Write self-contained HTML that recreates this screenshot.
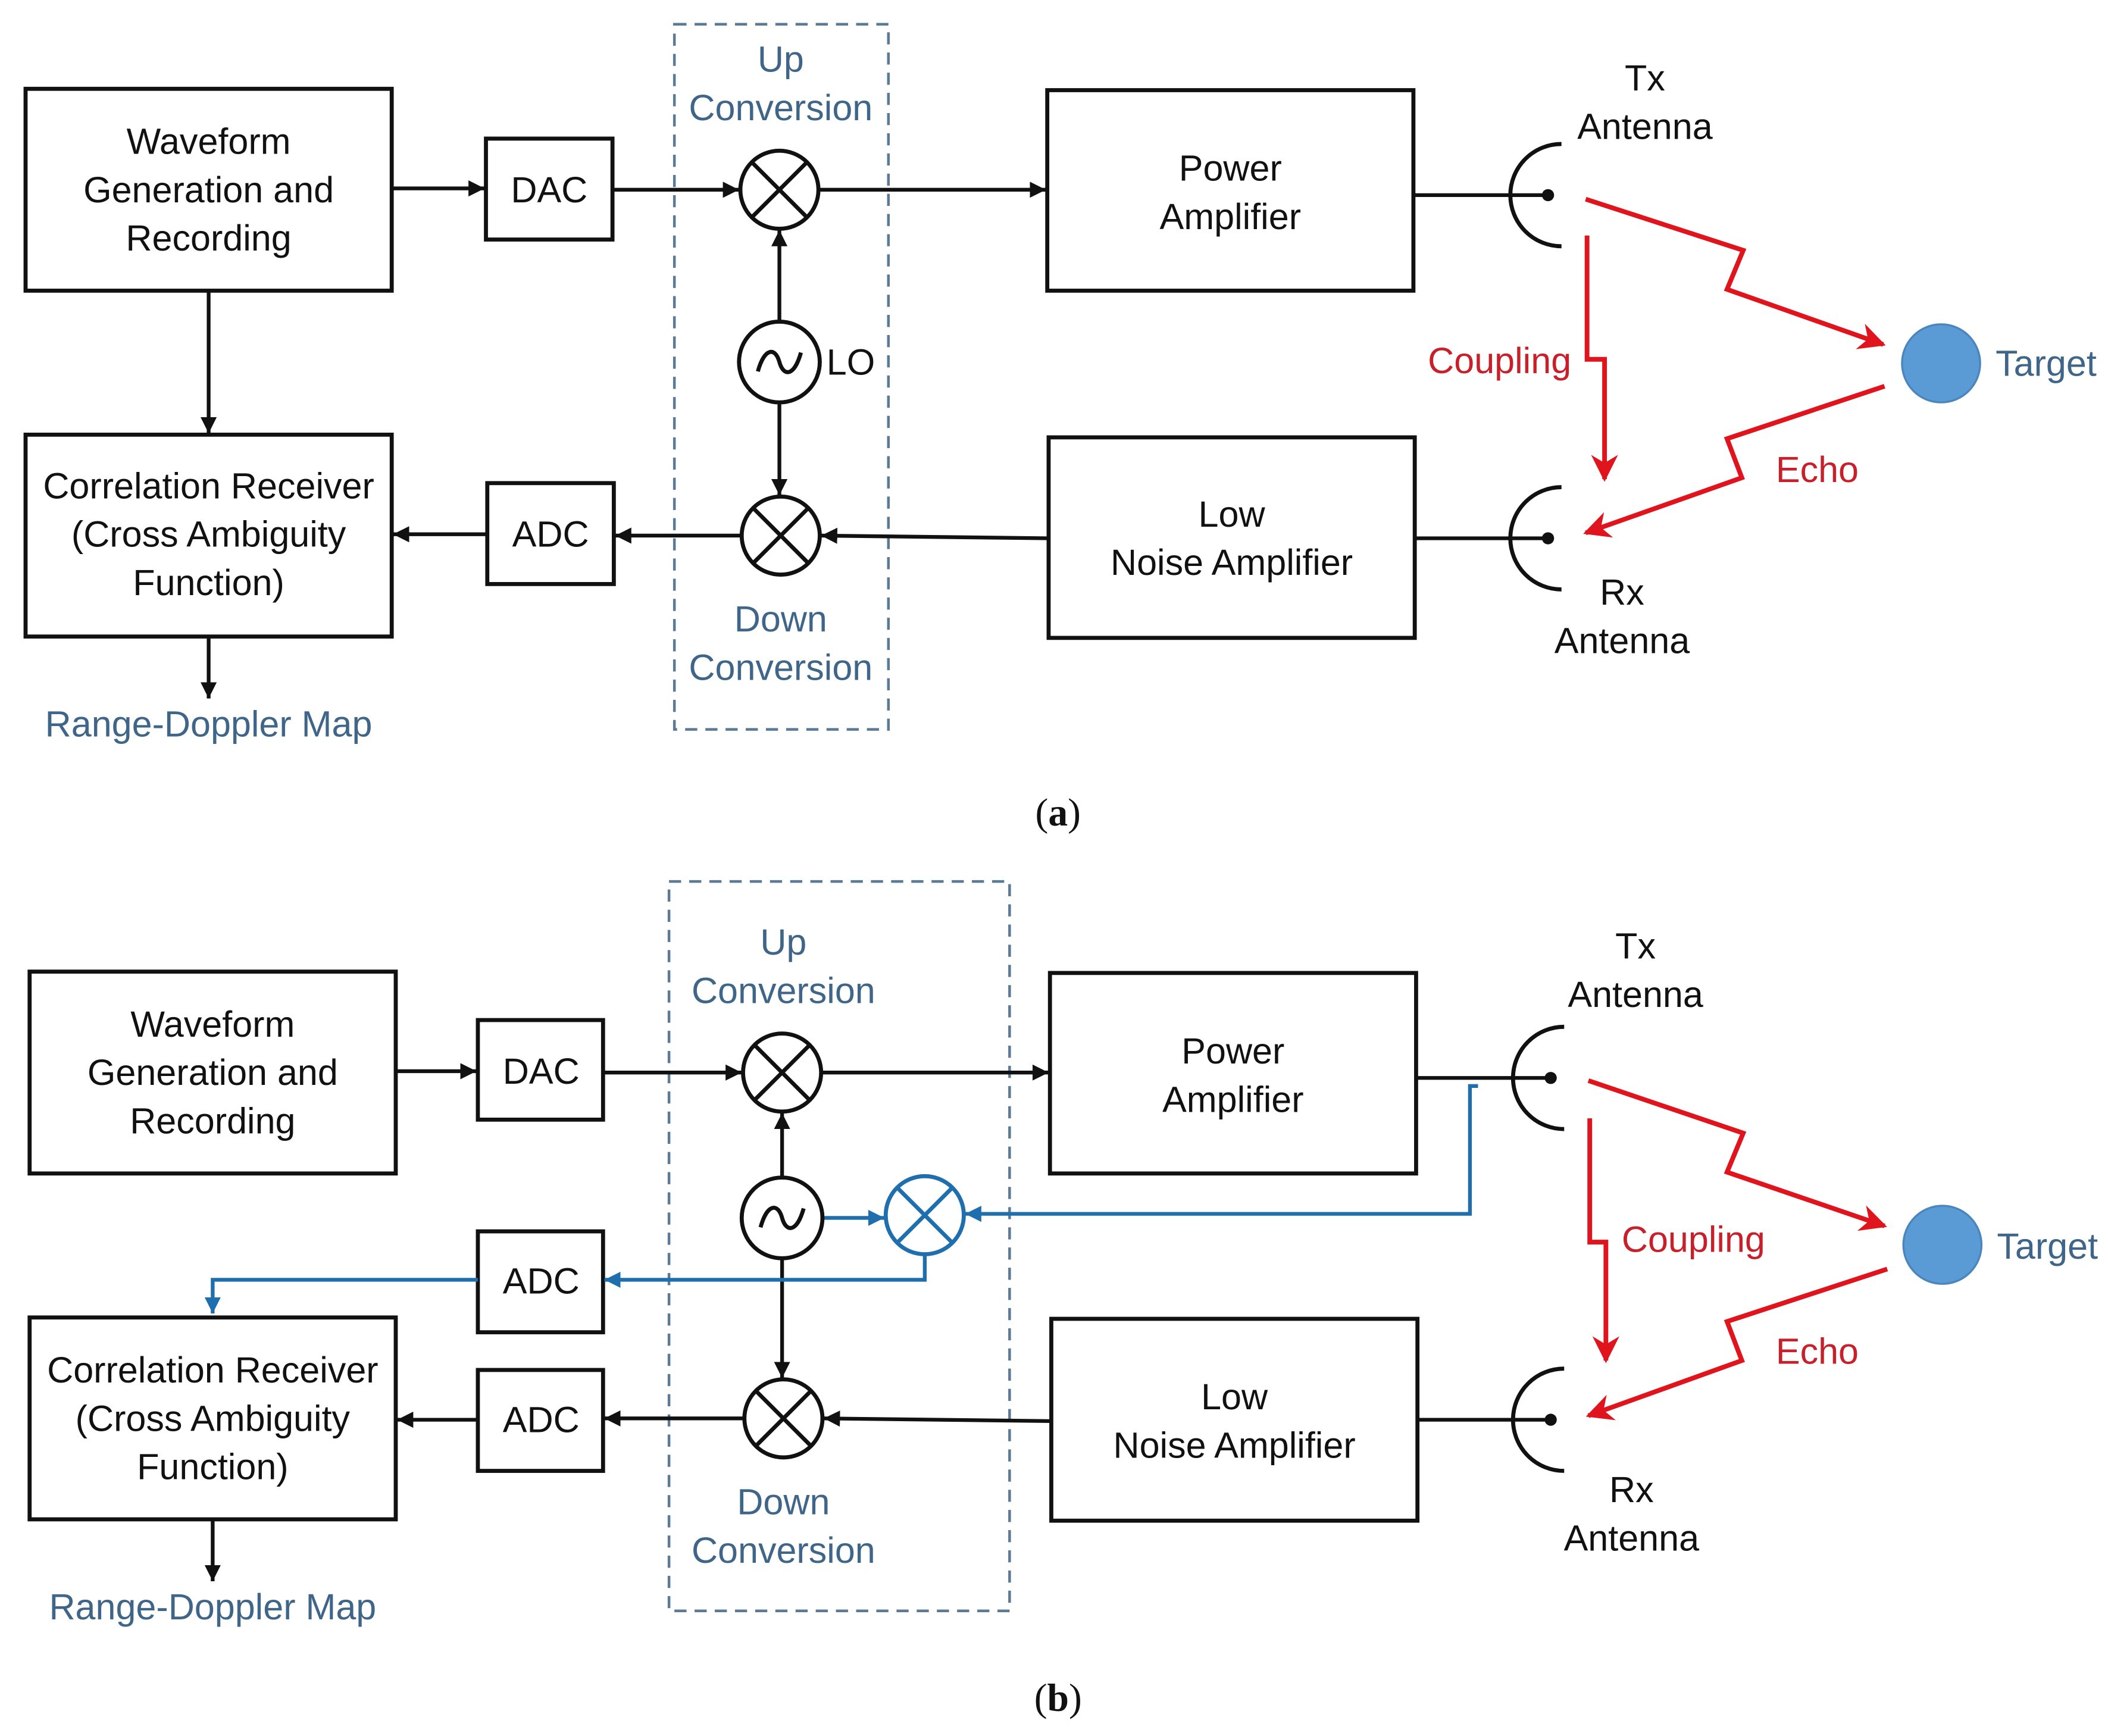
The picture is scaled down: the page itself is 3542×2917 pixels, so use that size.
<!DOCTYPE html>
<html><head><meta charset="utf-8"><style>
html,body{margin:0;padding:0;background:#fff;}
svg{display:block;}
text{font-family:"Liberation Sans",sans-serif;font-size:27px;text-anchor:middle;dominant-baseline:central;}
.k{fill:#111;}
.bl{fill:#3f6589;}
.rd{fill:#c8202a;}
</style></head><body>
<svg width="3542" height="2917" viewBox="0 0 1566 1290" preserveAspectRatio="none" xmlns="http://www.w3.org/2000/svg">
<defs>
<marker id="a" viewBox="0 0 10 10" refX="10" refY="5" markerWidth="12" markerHeight="12" markerUnits="userSpaceOnUse" orient="auto"><path d="M0,0L10,5L0,10z" fill="#111"/></marker>
<marker id="b" viewBox="0 0 10 10" refX="10" refY="5" markerWidth="12" markerHeight="12" markerUnits="userSpaceOnUse" orient="auto"><path d="M0,0L10,5L0,10z" fill="#1f6fae"/></marker>
<marker id="r" viewBox="0 0 10 10" refX="9" refY="5" markerWidth="20" markerHeight="20" markerUnits="userSpaceOnUse" orient="auto"><path d="M0,0L10,5L0,10L3,5z" fill="#e0141c"/></marker>
<g id="mix"><circle cx="0" cy="0" r="29" fill="#fff" stroke-width="3"/><path d="M-20,-20L20,20M20,-20L-20,20" stroke-width="3"/></g>
</defs>

<!-- ============ (a) ============ -->
<g fill="none" stroke="#111" stroke-width="3">
<rect x="19" y="66" width="272" height="150"/>
<rect x="361" y="103" width="94" height="75"/>
<rect x="778" y="67" width="272" height="149"/>
<rect x="19" y="323" width="272" height="150"/>
<rect x="362" y="359" width="94" height="75"/>
<rect x="779" y="325" width="272" height="149"/>
</g>
<rect x="501" y="18" width="159" height="524" fill="none" stroke="#5a7a96" stroke-width="2" stroke-dasharray="9,6"/>
<g stroke="#111" stroke-width="2.8" fill="none">
<path d="M291,140H360" marker-end="url(#a)"/>
<path d="M455,141H549" marker-end="url(#a)"/>
<path d="M608,141H777" marker-end="url(#a)"/>
<path d="M579,239V171" marker-end="url(#a)"/>
<path d="M579,299V368" marker-end="url(#a)"/>
<path d="M779,400L610,398" marker-end="url(#a)"/>
<path d="M551,398H457" marker-end="url(#a)"/>
<path d="M362,397H292" marker-end="url(#a)"/>
<path d="M155,216V322" marker-end="url(#a)"/>
<path d="M155,473V519" marker-end="url(#a)"/>
<path d="M1050,145H1150"/>
<path d="M1050,400H1150"/>
<path d="M1160,107A38,38 0 0 0 1160,183" stroke-width="3"/>
<path d="M1160,362A38,38 0 0 0 1160,438" stroke-width="3"/>
</g>
<circle cx="1150" cy="145" r="4.5" fill="#111"/>
<circle cx="1150" cy="400" r="4.5" fill="#111"/>
<use href="#mix" x="579" y="141" stroke="#111"/>
<use href="#mix" x="580" y="398" stroke="#111"/>
<circle cx="579" cy="269" r="30" fill="#fff" stroke="#111" stroke-width="3"/>
<path d="M563,276C568,258 576,258 579,269C582,280 590,280 595,262" fill="none" stroke="#111" stroke-width="3"/>
<g fill="none" stroke="#e0141c" stroke-width="3.5">
<path d="M1178,148L1295,186L1283,215L1399,256" marker-end="url(#r)"/>
<path d="M1179,175V267H1192V356" marker-end="url(#r)"/>
<path d="M1400,287L1283,326L1294,355L1178,396" marker-end="url(#r)"/>
</g>
<circle cx="1442" cy="270" r="29" fill="#5b9bd5" stroke="#4a86bd" stroke-width="1.5"/>
<text class="k" x="155" y="105">Waveform</text>
<text class="k" x="155" y="141">Generation and</text>
<text class="k" x="155" y="177">Recording</text>
<text class="k" x="408" y="141">DAC</text>
<text class="k" x="914" y="125">Power</text>
<text class="k" x="914" y="161">Amplifier</text>
<text class="k" x="155" y="361">Correlation Receiver</text>
<text class="k" x="155" y="397">(Cross Ambiguity</text>
<text class="k" x="155" y="433">Function)</text>
<text class="k" x="409" y="397">ADC</text>
<text class="k" x="915" y="382">Low</text>
<text class="k" x="915" y="418">Noise Amplifier</text>
<text class="k" x="632" y="269">LO</text>
<text class="k" x="1222" y="58">Tx</text>
<text class="k" x="1222" y="94">Antenna</text>
<text class="k" x="1205" y="440">Rx</text>
<text class="k" x="1205" y="476">Antenna</text>
<text class="bl" x="580" y="44">Up</text>
<text class="bl" x="580" y="80">Conversion</text>
<text class="bl" x="580" y="460">Down</text>
<text class="bl" x="580" y="496">Conversion</text>
<text class="bl" x="155" y="538">Range-Doppler Map</text>
<text class="bl" x="1520" y="270">Target</text>
<text class="rd" x="1114" y="268">Coupling</text>
<text class="rd" x="1350" y="349">Echo</text>
<text x="786" y="604" style="font-family:'Liberation Serif',serif;font-size:29px;fill:#111">(<tspan font-weight="bold">a</tspan>)</text>

<!-- ============ (b) ============ -->
<g fill="none" stroke="#111" stroke-width="3">
<rect x="22" y="722" width="272" height="150"/>
<rect x="355" y="758" width="93" height="74"/>
<rect x="780" y="723" width="272" height="149"/>
<rect x="22" y="979" width="272" height="150"/>
<rect x="355" y="915" width="93" height="75"/>
<rect x="355" y="1018" width="93" height="75"/>
<rect x="781" y="980" width="272" height="150"/>
</g>
<rect x="497" y="655" width="253" height="542" fill="none" stroke="#5a7a96" stroke-width="2" stroke-dasharray="9,6"/>
<g stroke="#111" stroke-width="2.8" fill="none">
<path d="M294,796H354" marker-end="url(#a)"/>
<path d="M448,797H551" marker-end="url(#a)"/>
<path d="M610,797H779" marker-end="url(#a)"/>
<path d="M581,875V827" marker-end="url(#a)"/>
<path d="M581,935V1024" marker-end="url(#a)"/>
<path d="M781,1056L612,1054" marker-end="url(#a)"/>
<path d="M553,1054H449" marker-end="url(#a)"/>
<path d="M355,1055H295" marker-end="url(#a)"/>
<path d="M158,1129V1175" marker-end="url(#a)"/>
<path d="M1052,801H1152"/>
<path d="M1053,1055H1152"/>
<path d="M1162,763A38,38 0 0 0 1162,839" stroke-width="3"/>
<path d="M1162,1017A38,38 0 0 0 1162,1093" stroke-width="3"/>
</g>
<circle cx="1152" cy="801" r="4.5" fill="#111"/>
<circle cx="1152" cy="1055" r="4.5" fill="#111"/>
<g stroke="#1f6fae" stroke-width="2.8" fill="none">
<path d="M611,905H657" marker-end="url(#b)"/>
<path d="M1098,807H1092V902H717" marker-end="url(#b)"/>
<path d="M687,932V951H449" marker-end="url(#b)"/>
<path d="M355,951H158V976" marker-end="url(#b)"/>
</g>
<use href="#mix" x="581" y="797" stroke="#111"/>
<use href="#mix" x="582" y="1054" stroke="#111"/>
<use href="#mix" x="687" y="903" stroke="#1f6fae"/>
<circle cx="581" cy="905" r="30" fill="#fff" stroke="#111" stroke-width="3"/>
<path d="M565,912C570,894 578,894 581,905C584,916 592,916 597,898" fill="none" stroke="#111" stroke-width="3"/>
<g fill="none" stroke="#e0141c" stroke-width="3.5">
<path d="M1180,803L1295,842L1283,871L1400,911" marker-end="url(#r)"/>
<path d="M1181,831V923H1193V1011" marker-end="url(#r)"/>
<path d="M1402,943L1283,982L1294,1011L1180,1052" marker-end="url(#r)"/>
</g>
<circle cx="1443" cy="925" r="29" fill="#5b9bd5" stroke="#4a86bd" stroke-width="1.5"/>
<text class="k" x="158" y="761">Waveform</text>
<text class="k" x="158" y="797">Generation and</text>
<text class="k" x="158" y="833">Recording</text>
<text class="k" x="402" y="796">DAC</text>
<text class="k" x="916" y="781">Power</text>
<text class="k" x="916" y="817">Amplifier</text>
<text class="k" x="158" y="1018">Correlation Receiver</text>
<text class="k" x="158" y="1054">(Cross Ambiguity</text>
<text class="k" x="158" y="1090">Function)</text>
<text class="k" x="402" y="952">ADC</text>
<text class="k" x="402" y="1055">ADC</text>
<text class="k" x="917" y="1038">Low</text>
<text class="k" x="917" y="1074">Noise Amplifier</text>
<text class="k" x="1215" y="703">Tx</text>
<text class="k" x="1215" y="739">Antenna</text>
<text class="k" x="1212" y="1107">Rx</text>
<text class="k" x="1212" y="1143">Antenna</text>
<text class="bl" x="582" y="700">Up</text>
<text class="bl" x="582" y="736">Conversion</text>
<text class="bl" x="582" y="1116">Down</text>
<text class="bl" x="582" y="1152">Conversion</text>
<text class="bl" x="158" y="1194">Range-Doppler Map</text>
<text class="bl" x="1521" y="926">Target</text>
<text class="rd" x="1258" y="921">Coupling</text>
<text class="rd" x="1350" y="1004">Echo</text>
<text x="786" y="1262" style="font-family:'Liberation Serif',serif;font-size:29px;fill:#111">(<tspan font-weight="bold">b</tspan>)</text>
</svg>
</body></html>
